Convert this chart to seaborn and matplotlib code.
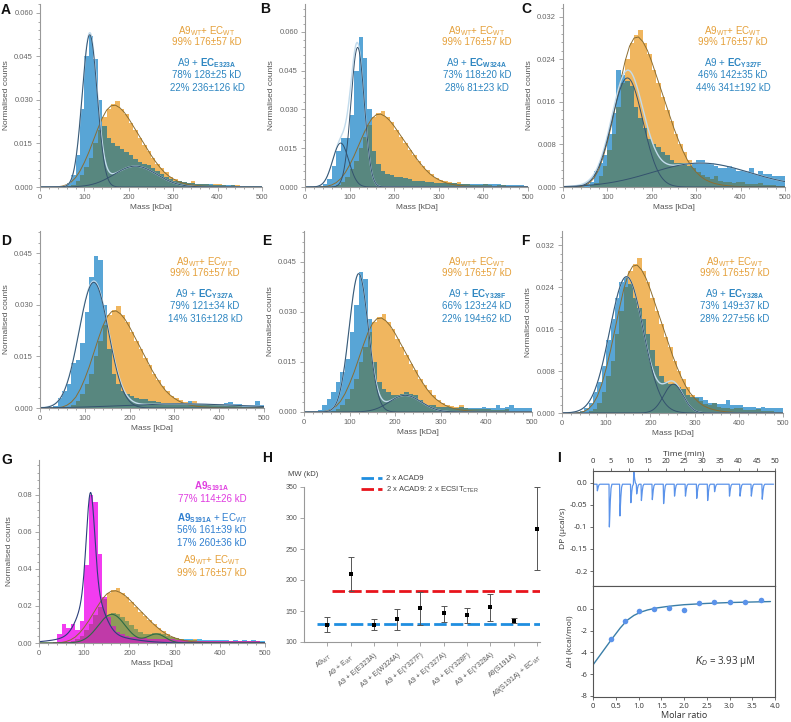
import numpy as np
import pandas as pd
import matplotlib
matplotlib.use("Agg")
import matplotlib.pyplot as plt
from matplotlib.ticker import MultipleLocator, FormatStrFormatter, AutoMinorLocator
import seaborn as sns

sns.set_style("ticks")
plt.rcParams["font.family"] = ["Liberation Sans", "DejaVu Sans"]
plt.rcParams["mathtext.fontset"] = "custom"
plt.rcParams["mathtext.rm"] = "Liberation Sans"
plt.rcParams["mathtext.it"] = "Liberation Sans:italic"
plt.rcParams["mathtext.bf"] = "Liberation Sans:bold"

# ------------------------------------------
# Mass photometry histograms (10 kDa bins, 0-500 kDa, counts x 1000)
# ------------------------------------------
bin_edges = np.arange(0, 510, 10)

wt_hist = [0, 0, 0, 0, 0, 0, 0.3, 0.8, 2, 4,
           7, 10, 15, 19.5, 24, 27, 28.5, 29.5, 27, 25,
           22, 19.5, 17, 14.5, 12.5, 10, 8, 6.5, 5, 3.5,
           2.8, 2.2, 1.8, 1.5, 2, 1.2, 1, 0.9, 0.8, 0.9,
           1, 0.6, 0.5, 0.6, 0.8, 0.4, 0.3, 0.3, 0.2, 0.2]
e323a_hist = [0, 0, 0, 0, 0.2, 0.5, 1.5, 4, 11, 27,
              45, 52, 44, 30, 21, 17, 15, 14, 13, 12,
              11, 9.5, 8.5, 8, 7.5, 6.5, 5.5, 4.5, 3.5, 2.8,
              2.2, 2, 1.8, 1.5, 1.3, 1.2, 1, 1, 0.9, 0.8,
              0.8, 0.7, 0.6, 0.6, 0.5, 0.5, 0.4, 0.4, 0.4, 0.3]
w324a_hist = [0, 0, 0, 0.3, 1, 3, 8, 14, 19, 19,
              28, 45, 58, 50, 30, 14, 9, 6, 5, 4.5,
              4, 4, 3.5, 3, 2.5, 2.5, 2.5, 2, 2, 1.5,
              1.5, 1.5, 1.5, 1.5, 1.2, 1.2, 1, 1.2, 1, 1,
              1.2, 1, 1.2, 1, 0.8, 0.8, 0.8, 0.6, 0.6, 0.5]
y327f_hist = [0, 0, 0, 0, 0.2, 0.5, 1, 3, 4.5, 6,
              10, 14, 22, 21, 20, 19, 15, 13, 11, 9,
              8, 7.5, 6.5, 6, 5, 4.5, 4.5, 4.5, 4, 4.5,
              5, 5, 4.5, 4.5, 4, 3.5, 3.5, 4, 3.5, 3,
              3, 3, 3.5, 2.5, 3, 2.5, 2.5, 2, 2, 2]
y327a_hist = [0, 0, 0, 0.5, 3, 5, 7, 13, 14, 19,
              28, 38, 44, 43, 30, 17, 10, 7, 5, 4,
              3.5, 3, 2.5, 2.5, 2, 2, 1.8, 1.5, 1.5, 1.5,
              1.5, 1.5, 1.3, 2, 1.3, 1.2, 1.2, 1.2, 1.2, 1.2,
              1.2, 1.5, 1.8, 1.2, 1.2, 1, 1, 1, 2, 1]
y328f_hist = [0, 0, 0, 0.5, 2, 4, 6, 9, 12, 16,
              24, 32, 42, 40, 28, 15, 9, 7, 6, 5,
              5, 5.5, 6, 5.5, 5, 3.5, 2.5, 2, 2, 1.5,
              1.5, 1.5, 1.2, 1.2, 1.5, 1.2, 1.2, 1.2, 1.2, 1.5,
              1.2, 1.2, 2, 1.2, 1.5, 2, 1.2, 1.2, 1.2, 1.2]
y328a_hist = [0, 0, 0, 0, 0.3, 1, 2, 4, 6, 9,
              14, 18, 22, 25, 26, 24.5, 22, 20, 18, 15,
              12, 9, 7, 6, 5.5, 5.5, 5, 4.5, 3.5, 3,
              3, 3, 2.5, 2, 2, 1.8, 1.8, 2.5, 1.5, 1.5,
              1.5, 1.2, 1.2, 1.2, 1, 1.2, 1, 1, 1, 1]
s191a_hist = [0, 0, 0, 0.3, 5, 10, 8, 10, 7, 12,
              42, 80, 76, 48, 25, 14, 9, 6, 5, 4,
              3.5, 3, 2.5, 2.5, 2, 2, 2, 2, 2, 2,
              1.5, 1.5, 1.5, 1.2, 1.2, 1.2, 1.2, 1.2, 1, 1,
              1, 1, 1, 1, 1, 1, 1, 1.2, 1, 0.8]
s191a_ec_hist = [0, 0, 0, 0, 0, 0.3, 0.5, 1, 2, 3,
                 4, 6, 8, 10, 13, 15, 16, 15.5, 14, 12,
                 9.5, 7.5, 6, 5, 5, 5.5, 5.5, 5, 4, 3,
                 2.5, 2, 2, 2, 1.5, 2, 1.5, 1.5, 1.5, 1.5,
                 1.5, 1.5, 1.2, 1.5, 1.2, 1.5, 1.2, 1.5, 1.2, 1.2]

# WT fit curve (x 1000), every 10 kDa from 0 to 500
wt_fit_mass = np.arange(0, 501, 10)
wt_fit = [0, 0, 0, 0, 0.1, 0.3, 0.8, 1.7, 3.2, 5.5,
          8.5, 12, 16, 20, 23.7, 26.5, 28, 28.2, 27.3, 25.7,
          23.5, 21, 18.5, 16, 13.5, 11, 8.8, 6.8, 5.1, 3.8,
          2.8, 2, 1.4, 1, 0.7, 0.5, 0.35, 0.25, 0.18, 0.12,
          0.08, 0.05, 0.03, 0.02, 0.01, 0, 0, 0, 0, 0, 0]

# Gaussian fit components: centre, sigma, height x 1000
e323a_fit = [[112, 17, 52.5], [215, 48, 7.2]]
w324a_fit = [[118, 15, 54], [80, 18, 17]]
y327f_fit = [[145, 35, 20.5], [310, 110, 4.5]]
y327a_fit = [[120, 33, 36.5], [316, 128, 1.2]]
y328f_fit = [[120, 21, 41.5], [222, 35, 5]]
y328a_fit = [[146, 38, 26], [252, 22, 5.5]]
s191a_fit = [[114, 9, 52], [116, 24, 25], [125, 65, 4.5]]
s191a_ec_fit = [[161, 30, 15.5], [260, 20, 4.8]]

mutants = ["E323A", "W324A", "Y327F", "Y327A", "Y328F", "Y328A"]
mutant_pcts = [["78% 128±25 kD", "22% 236±126 kD"],
               ["73% 118±20 kD", "28% 81±23 kD"],
               ["46% 142±35 kD", "44% 341±192 kD"],
               ["79% 121±34 kD", "14% 316±128 kD"],
               ["66% 123±24 kD", "22% 194±62 kD"],
               ["73% 149±37 kD", "28% 227±56 kD"]]
wt_pct = "99% 176±57 kD"

# ------------------------------------------
# Panel H: mass estimates
# ------------------------------------------
h_labels = [r"A9$_{WT}$", r"A9 + E$_{WT}$", "A9 + E(E323A)", "A9 + E(W324A)",
            "A9 + E(Y327F)", "A9 + E(Y327A)", "A9 + E(Y328F)", "A9 + E(Y328A)",
            "A9(S191A)", r"A9(S191A) + EC$_{WT}$"]
h_mw = [128, 209, 127, 137, 155, 146, 143, 156, 134, 282]
h_lo = [116, 182, 119, 119, 127, 132, 130, 134, 131, 216]
h_hi = [141, 237, 137, 153, 181, 158, 155, 177, 138, 350]
acad9_dimer = 129
acad9_ecsit = 183

# ------------------------------------------
# Panel I: ITC
# ------------------------------------------
dp_base = -0.003
inj_time = [1.2, 4.5, 7.4, 10.4, 11.2, 12.0, 13.3, 16.3, 19.4, 22.4,
            25.4, 28.5, 31.5, 33.4, 37.5, 40.4, 43.5, 46.5]
inj_peak = [-0.018, -0.1, -0.075, -0.045, 0.026, -0.025, -0.04, -0.038, -0.047, -0.03,
            -0.03, -0.035, -0.04, -0.02, -0.03, -0.03, -0.03, -0.037]
molar_ratio = [0.39, 0.71, 1.02, 1.35, 1.66, 2.0, 2.33, 2.67, 3.01, 3.35, 3.70]
delta_h = [-2.78, -1.1, -0.18, 0.0, 0.12, -0.09, 0.55, 0.64, 0.64, 0.67, 0.83]
fit_ratio = [0, 0.2, 0.4, 0.6, 0.75, 0.9, 1.05, 1.2, 1.4, 1.6, 1.8, 2.0, 2.5, 3.0, 3.5, 3.9]
fit_dh = [-5.15, -4.0, -2.85, -1.75, -1.05, -0.6, -0.3, -0.1, 0.08, 0.2, 0.3, 0.38, 0.5, 0.58, 0.63, 0.67]

# ------------------------------------------
# Colours
# ------------------------------------------
c_orange = "#f0b65f"
c_blue = "#58a5d6"
c_overlap = "#58877f"
c_orange_txt = "#e5a03a"
c_blue_txt = "#2e86c1"
c_comp = "#34526e"
c_sum = "#c2dbec"
c_orange_fit = "#8c6d30"
c_mag = "#f23cf0"
c_mag_dark = "#c03aa8"
c_cyan = "#52b8ee"
c_olive = "#8e9b58"

W, H = 791, 722
fig = plt.figure(figsize=(W / 100, H / 100), dpi=100)


def box(x0, y0, x1, y1):
    return fig.add_axes([x0 / W, 1 - y1 / H, (x1 - x0) / W, (y1 - y0) / H])


def ftext(x, y, s, **kw):
    fig.text(x / W, 1 - y / H, s, **kw)


def hist(ax, heights, color):
    df = pd.DataFrame({"mass": bin_edges[:-1] + 5, "h": np.asarray(heights, dtype=float)})
    sns.histplot(data=df, x="mass", weights="h", binwidth=10, binrange=(0, 500),
                 element="step", fill=True, color=color, alpha=1, linewidth=0, ax=ax)


def curve(ax, x, y, color, lw=0.7):
    sns.lineplot(x=np.asarray(x), y=np.asarray(y), color=color, lw=lw,
                 estimator=None, sort=False, ax=ax)


mass_grid = np.arange(0, 501, 1)


def gauss(mu, sd, amp):
    return amp * 1e-3 * np.exp(-0.5 * ((mass_grid - mu) / sd) ** 2)


def style_mass(ax, ymax, ystep, fmt):
    ax.set_xlim(0, 500)
    ax.set_ylim(0, ymax)
    ax.xaxis.set_major_locator(MultipleLocator(100))
    ax.xaxis.set_minor_locator(AutoMinorLocator(5))
    ax.yaxis.set_major_locator(MultipleLocator(ystep))
    ax.yaxis.set_minor_locator(AutoMinorLocator(5))
    ax.yaxis.set_major_formatter(FormatStrFormatter(fmt))
    ax.set_xlabel("Mass [kDa]", fontsize=6, color="#555", labelpad=2)
    ax.set_ylabel("Normalised counts", fontsize=6, color="#555", labelpad=3)
    sns.despine(ax=ax)
    for s in ("left", "bottom"):
        ax.spines[s].set_color("#999")
        ax.spines[s].set_linewidth(0.8)
    ax.tick_params(which="both", colors="#999", labelcolor="#666", labelsize=5.5, width=0.6)
    ax.tick_params(which="major", length=3, pad=2)
    ax.tick_params(which="minor", length=1.5)


def mass_panel(box_px, blue, comps, ymax, ystep, fmt):
    ax = box(*box_px)
    wt = np.array(wt_hist) * 1e-3
    b = np.array(blue) * 1e-3
    hist(ax, wt, c_orange)
    hist(ax, b, c_blue)
    hist(ax, np.minimum(wt, b), c_overlap)
    curve(ax, wt_fit_mass, np.array(wt_fit) * 1e-3, c_orange_fit)
    parts = [gauss(*c) for c in comps]
    curve(ax, mass_grid, sum(parts), c_sum, lw=1.0)
    for p in parts:
        curve(ax, mass_grid, p, c_comp)
    style_mass(ax, ymax, ystep, fmt)
    return ax


# ==========================================
# Panels A-F
# ==========================================
boxes = [(40, 4, 262, 187), (305, 4, 528, 187), (563, 4, 785, 187),
         (40, 231, 264, 408), (304, 231, 532, 412), (562, 231, 783, 413)]
hists = [e323a_hist, w324a_hist, y327f_hist, y327a_hist, y328f_hist, y328a_hist]
fits = [e323a_fit, w324a_fit, y327f_fit, y327a_fit, y328f_fit, y328a_fit]
ymaxes = [0.0631, 0.0708, 0.0344, 0.0514, 0.0543, 0.0347]
ysteps = [0.015, 0.015, 0.008, 0.015, 0.015, 0.008]
text_x = [207, 477, 733, 205, 477, 735]
text_y0 = [31, 31, 31, 262, 262, 262]

for i in range(6):
    mass_panel(boxes[i], hists[i], fits[i], ymaxes[i], ysteps[i], "%.3f")
    x, y0 = text_x[i], text_y0[i]
    ftext(x, y0, r"A9$_{\rm WT}$+ EC$_{\rm WT}$", color=c_orange_txt, ha="center", va="center", fontsize=7)
    ftext(x, y0 + 11, wt_pct, color=c_orange_txt, ha="center", va="center", fontsize=7)
    ftext(x, y0 + 32, r"A9 + $\mathbf{EC}_{\mathbf{" + mutants[i] + "}}$",
          color=c_blue_txt, ha="center", va="center", fontsize=7)
    ftext(x, y0 + 44, mutant_pcts[i][0], color=c_blue_txt, ha="center", va="center", fontsize=7)
    ftext(x, y0 + 57, mutant_pcts[i][1], color=c_blue_txt, ha="center", va="center", fontsize=7)

# ==========================================
# Panel G
# ==========================================
axG = box(39, 460, 265, 643)
wt = np.array(wt_hist) * 1e-3
cy = np.array(s191a_ec_hist) * 1e-3
mg = np.array(s191a_hist) * 1e-3
hist(axG, wt, c_orange)
hist(axG, cy, c_cyan)
hist(axG, np.minimum(wt, cy), c_olive)
hist(axG, mg, c_mag)
hist(axG, np.minimum(mg, np.maximum(wt, cy)), c_mag_dark)
curve(axG, wt_fit_mass, np.array(wt_fit) * 1e-3, c_orange_fit)
curve(axG, mass_grid, sum(gauss(*c) for c in s191a_ec_fit), "#2e6a45", lw=0.8)
curve(axG, mass_grid, sum(gauss(*c) for c in s191a_fit), "#2c3f7c", lw=0.8)
style_mass(axG, 0.0989, 0.02, "%.2f")

ftext(212, 486, r"$\mathbf{A9}_{\mathbf{S191A}}$", color="#e03ce0", ha="center", va="center", fontsize=7)
ftext(212, 499, "77% 114±26 kD", color="#e03ce0", ha="center", va="center", fontsize=7)
ftext(212, 518, r"$\mathbf{A9}_{\mathbf{S191A}}$ + EC$_{\rm WT}$", color="#2f7fd0", ha="center", va="center", fontsize=7)
ftext(212, 530, "56% 161±39 kD", color="#2f7fd0", ha="center", va="center", fontsize=7)
ftext(212, 543, "17% 260±36 kD", color="#2f7fd0", ha="center", va="center", fontsize=7)
ftext(212, 560, r"A9$_{\rm WT}$+ EC$_{\rm WT}$", color=c_orange_txt, ha="center", va="center", fontsize=7)
ftext(212, 573, wt_pct, color=c_orange_txt, ha="center", va="center", fontsize=7)

# ==========================================
# Panel H
# ==========================================
axH = box(304, 487, 540, 642)
xs = np.arange(len(h_labels))
axH.axhline(acad9_dimer, xmin=0.055, xmax=1, color="#1f8ee0", lw=2, ls=(0, (4.5, 1.5)), label="2 x ACAD9")
axH.axhline(acad9_ecsit, xmin=0.12, xmax=1, color="#e8141c", lw=2, ls=(0, (4.5, 1.5)),
            label=r"2 x ACAD9: 2 x ECSIT$_{\rm CTER}$")
mw = np.array(h_mw)
axH.errorbar(xs, mw, yerr=[mw - np.array(h_lo), np.array(h_hi) - mw], fmt="none",
             ecolor="#555", elinewidth=0.7, capsize=2, capthick=0.7, zorder=3)
sns.scatterplot(x=xs, y=mw, marker="s", s=6, color="black", linewidth=0, ax=axH, zorder=4)
axH.set_xlim(-1, 9.13)
axH.set_ylim(100, 350)
axH.yaxis.set_major_locator(MultipleLocator(50))
axH.set_xticks(xs)
axH.set_xticklabels(h_labels, rotation=40, ha="right", rotation_mode="anchor")
sns.despine(ax=axH)
for s in ("left", "bottom"):
    axH.spines[s].set_color("#999")
    axH.spines[s].set_linewidth(0.8)
axH.tick_params(colors="#999", labelcolor="#555", labelsize=5, width=0.6, length=3, pad=2)
axH.tick_params(axis="x", pad=4)
ftext(303, 474, "MW (kD)", color="#444", ha="center", va="center", fontsize=5.5)
axH.legend(loc="upper left", bbox_to_anchor=(361 / W, 1 - 475 / H), bbox_transform=fig.transFigure,
           frameon=False, fontsize=5.5, handlelength=2.7, handletextpad=0.6, labelspacing=0.35,
           borderpad=0, borderaxespad=0, labelcolor="#444")

# ==========================================
# Panel I
# ==========================================
itc_font = ["Open Sans", "DejaVu Sans"]
c_itc = "#5b93ea"
trace_t = [0.0]
trace_dp = [dp_base]
for t, p in zip(inj_time, inj_peak):
    trace_t += [t - 0.1, t, t + 0.25, t + 0.45, t + 0.7]
    trace_dp += [dp_base, p, dp_base + 0.4 * (p - dp_base), dp_base + 0.1 * (p - dp_base), dp_base]
trace_t.append(49.6)
trace_dp.append(dp_base)

axI1 = box(593, 471, 775, 586)
curve(axI1, trace_t, trace_dp, c_itc, lw=0.9)
axI1.set_xlim(0, 50)
axI1.set_ylim(-0.234, 0.027)
axI1.xaxis.tick_top()
axI1.xaxis.set_label_position("top")
axI1.set_xticks(np.arange(0, 51, 5))
axI1.set_yticks([0, -0.05, -0.1, -0.15, -0.2])
axI1.set_yticklabels(["0.0", "-0.05", "-0.1", "-0.15", "-0.2"])
axI1.set_xlabel("Time (min)", fontsize=6, family=itc_font, color="#333", labelpad=2)
axI1.set_ylabel("DP (µcal/s)", fontsize=6, family=itc_font, color="#333", labelpad=2)

axI2 = box(593, 586, 775, 697)
curve(axI2, fit_ratio, fit_dh, "#3a7ea8", lw=1.0)
sns.scatterplot(x=molar_ratio, y=delta_h, s=16, color=c_itc, linewidth=0, ax=axI2, zorder=3)
axI2.set_xlim(0, 4.0)
axI2.set_ylim(-8.1, 2.1)
axI2.set_xticks(np.arange(0, 4.01, 0.5))
axI2.set_xticklabels(["0", "0.5", "1.0", "1.5", "2.0", "2.5", "3.0", "3.5", "4.0"])
axI2.set_yticks([0, -2, -4, -6, -8])
axI2.set_yticklabels(["0.0", "-2", "-4", "-6", "-8"])
axI2.set_xlabel("Molar ratio", fontsize=6.5, family=itc_font, color="#333", labelpad=1)
axI2.set_ylabel("ΔH (kcal/mol)", fontsize=6, family=itc_font, color="#333", labelpad=2)
axI2.text(0.56, 0.32, r"$K_D$ = 3.93 µM", transform=axI2.transAxes, fontsize=7,
          family=itc_font, color="#333", va="center")

for ax in (axI1, axI2):
    for s in ax.spines.values():
        s.set_color("#555")
        s.set_linewidth(0.8)
    ax.tick_params(colors="#555", labelcolor="#333", labelsize=5.5, width=0.6, length=2.5, pad=1.5)
    for lab in ax.get_xticklabels() + ax.get_yticklabels():
        lab.set_family(itc_font)

# ==========================================
# Panel letters
# ==========================================
letters = ["A", "B", "C", "D", "E", "F", "G", "H", "I"]
letter_x = [1, 260, 521, 1, 262, 521, 1, 262, 557]
letter_y = [10, 9, 9, 241, 241, 241, 460, 458, 458]
for s, x, y in zip(letters, letter_x, letter_y):
    ftext(x, y, s, fontsize=10, fontweight="bold", ha="left", va="center", color="#111")

fig.savefig("out.png", dpi=100)
